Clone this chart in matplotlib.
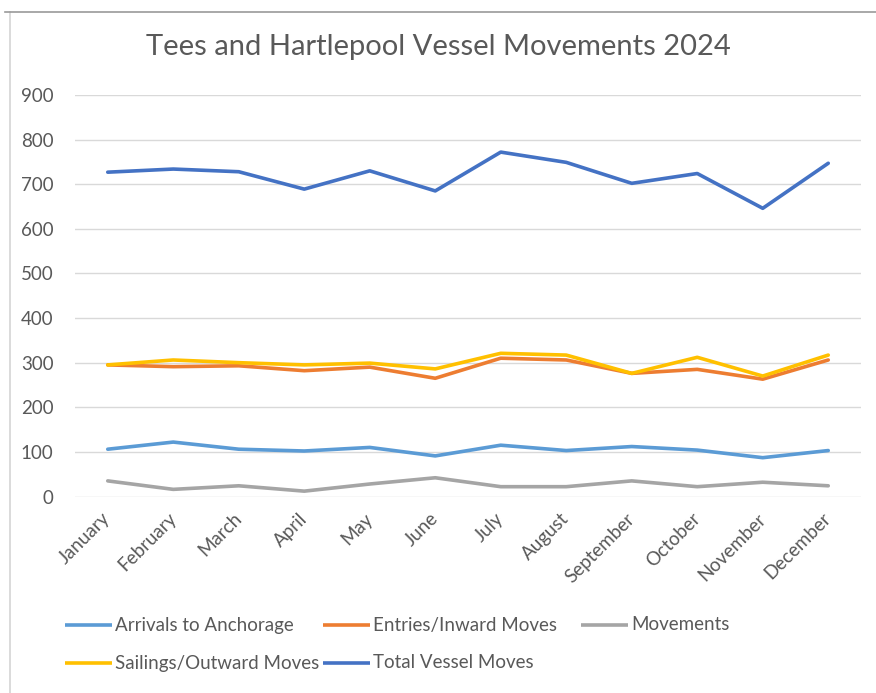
import matplotlib
matplotlib.use("Agg")
import matplotlib.pyplot as plt
from matplotlib.lines import Line2D

months = ["January", "February", "March", "April", "May", "June", "July",
          "August", "September", "October", "November", "December"]
arrivals = [106, 122, 106, 102, 110, 91, 115, 103, 112, 104, 87, 103]
entries = [295, 291, 293, 282, 290, 265, 310, 306, 276, 285, 263, 306]
movements = [35, 16, 24, 12, 28, 42, 22, 22, 35, 22, 32, 24]
sailings = [295, 306, 300, 295, 299, 286, 321, 317, 276, 312, 270, 317]
total = [727, 734, 728, 689, 730, 685, 772, 749, 702, 724, 646, 747]

series_names = ["Arrivals to Anchorage", "Entries/Inward Moves", "Movements",
                "Sailings/Outward Moves", "Total Vessel Moves"]
series_values = [arrivals, entries, movements, sailings, total]
series_colors = ["#5B9BD5", "#ED7D31", "#A5A5A5", "#FFC000", "#4472C4"]
y_ticks = [0, 100, 200, 300, 400, 500, 600, 700, 800, 900]
title = "Tees and Hartlepool Vessel Movements 2024"

plt.rcParams['font.family'] = ['Lato', 'DejaVu Sans']
W, H = 876, 693
TXT = '#595959'
fig = plt.figure(figsize=(W / 100, H / 100), dpi=100)
fig.patch.set_facecolor("white")

ax = fig.add_axes([75 / W, (H - 496.5) / H, (861 - 75) / W, (496.5 - 95) / H])
x = list(range(len(months)))
for name, vals, col in zip(series_names, series_values, series_colors):
    ax.plot(x, vals, color=col, lw=2.6, solid_capstyle='round', solid_joinstyle='round', label=name)

ax.set_xlim(-0.5, len(months) - 0.5)
ax.set_ylim(0, 900)
ax.set_yticks(y_ticks)
ax.set_yticklabels([str(v) for v in y_ticks])
ax.grid(axis='y', color='#D9D9D9', lw=1.0)
ax.set_axisbelow(True)
for s in ax.spines.values():
    s.set_visible(False)
ax.tick_params(axis='both', length=0, colors=TXT, labelsize=13.5)
ax.tick_params(axis='y', pad=15.5)
ax.set_xticks(x)
ax.set_xticklabels(months, rotation=45, ha='right', rotation_mode='anchor', va='center')
ax.tick_params(axis='x', pad=14)

fig.text(0.5, (H - 47) / H, title, ha='center', va='center', fontsize=21, color=TXT)

# legend (Excel-style equal-width columns)
col_x = [65, 323, 581]
row_y = [625, 663]
handle_len = 47
for i, (name, col) in enumerate(zip(series_names, series_colors)):
    cx = col_x[i % 3]
    ry = row_y[i // 3]
    fig.add_artist(Line2D([cx / W, (cx + handle_len) / W], [(H - ry) / H, (H - ry) / H],
                          color=col, lw=2.6, solid_capstyle='butt'))
    fig.text((cx + handle_len + 3) / W, (H - ry) / H, name, ha='left', va='center',
             fontsize=13.5, color=TXT)

# chart frame lines
fig.add_artist(Line2D([10 / W, 10 / W], [0, (H - 12) / H], color='#D4D4D4', lw=1.2))
fig.add_artist(Line2D([5 / W, 1], [(H - 12) / H, (H - 12) / H], color='#9A9A9A', lw=1.2))

fig.savefig("out.png", dpi=100, facecolor="white")
